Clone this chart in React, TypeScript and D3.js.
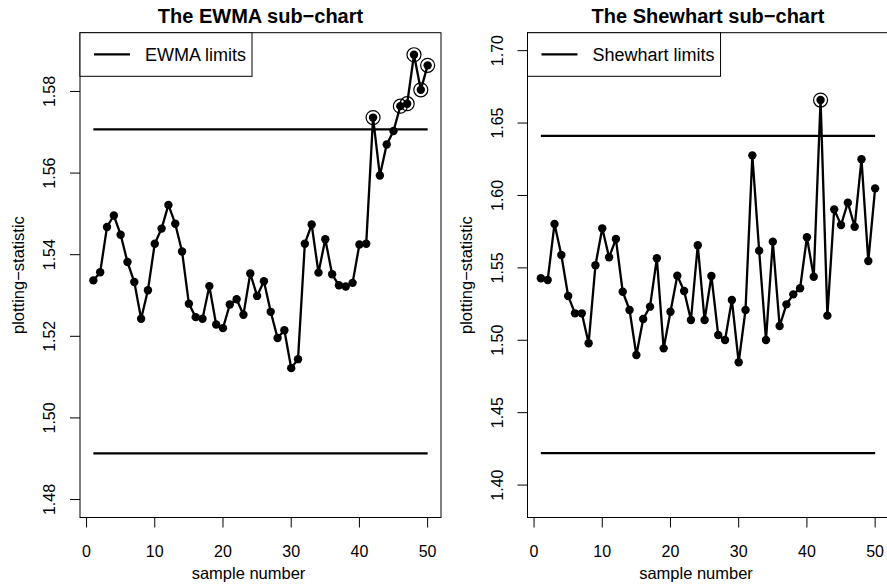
import { useEffect, useRef } from 'react';
import * as d3 from 'd3';

// sample numbers 1..50
const sampleNumbers: number[] = d3.range(1, 51);

const ewmaValues: number[] = [
  1.5337, 1.5357, 1.5468, 1.5496, 1.5449, 1.5382, 1.5333, 1.5243, 1.5313, 1.5427,
  1.5464, 1.5522, 1.5476, 1.5408, 1.528, 1.5247, 1.5243, 1.5323, 1.5229, 1.522,
  1.5278, 1.5291, 1.5253, 1.5354, 1.5299, 1.5335, 1.526, 1.5196, 1.5215, 1.5122,
  1.5144, 1.5427, 1.5474, 1.5356, 1.5438, 1.5352, 1.5325, 1.5322, 1.5331, 1.5425,
  1.5427, 1.5736, 1.5594, 1.567, 1.5703, 1.5764, 1.577, 1.589, 1.5804, 1.5864,
];
const ewmaLimits: number[] = [1.4913, 1.5707];
const ewmaYlim: number[] = [1.48, 1.59];
const ewmaTicks: number[] = [1.48, 1.5, 1.52, 1.54, 1.56, 1.58];

const shewhartValues: number[] = [
  1.5428, 1.5416, 1.5803, 1.5589, 1.5306, 1.5186, 1.5186, 1.4979, 1.5518, 1.5773,
  1.5573, 1.5699, 1.5335, 1.5209, 1.4898, 1.5147, 1.5232, 1.5566, 1.4944, 1.5197,
  1.5446, 1.534, 1.514, 1.5656, 1.514, 1.5444, 1.5036, 1.5002, 1.5278, 1.4848,
  1.5209, 1.6277, 1.5619, 1.5002, 1.5681, 1.5098, 1.5248, 1.5317, 1.5359, 1.5711,
  1.5439, 1.6659, 1.517, 1.5904, 1.5796, 1.595, 1.5784, 1.625, 1.5547, 1.6049,
];
const shewhartLimits: number[] = [1.4221, 1.6411];
const shewhartYlim: number[] = [1.39, 1.7];
const shewhartTicks: number[] = [1.4, 1.45, 1.5, 1.55, 1.6, 1.65, 1.7];

const xTicks: number[] = [0, 10, 20, 30, 40, 50];

const FONT = '"Liberation Sans", Arial, Helvetica, sans-serif';

type Panel = {
  title: string;
  legend: string;
  values: number[];
  limits: number[];
  ylim: number[];
  yTicks: number[];
  left: number;
};

const panels: Panel[] = [
  { title: 'The EWMA sub\u2212chart', legend: 'EWMA limits', values: ewmaValues, limits: ewmaLimits, ylim: ewmaYlim, yTicks: ewmaTicks, left: 80 },
  { title: 'The Shewhart sub\u2212chart', legend: 'Shewhart limits', values: shewhartValues, limits: shewhartLimits, ylim: shewhartYlim, yTicks: shewhartTicks, left: 527.5 },
];

// R-style 4% axis expansion
const expand = (lim: number[]) => {
  const pad = (lim[1] - lim[0]) * 0.04;
  return [lim[0] - pad, lim[1] + pad];
};

function App() {
  const svgRef = useRef<SVGSVGElement>(null);

  useEffect(() => {
    if (!svgRef.current) return;
    const svg = d3.select(svgRef.current);
    svg.selectAll('*').remove();

    const top = 32.7;
    const bottom = 517.5;
    const boxWidth = 361;

    panels.forEach((p) => {
      const x = d3.scaleLinear()
        .domain(expand([1, 50]))
        .range([p.left, p.left + boxWidth]);
      const y = d3.scaleLinear()
        .domain(expand(p.ylim))
        .range([bottom, top]);

      const g = svg.append('g').attr('font-family', FONT);

      // title
      g.append('text')
        .attr('x', p.left + boxWidth / 2)
        .attr('y', 23)
        .attr('text-anchor', 'middle')
        .attr('font-size', 20)
        .attr('font-weight', 'bold')
        .text(p.title);

      // limit lines
      p.limits.forEach((l) => {
        g.append('line')
          .attr('x1', x(1)).attr('x2', x(50))
          .attr('y1', y(l)).attr('y2', y(l))
          .attr('stroke', '#000')
          .attr('stroke-width', 2.3);
      });

      // series
      const line = d3.line<number>()
        .x((_, i) => x(sampleNumbers[i]))
        .y((d) => y(d));
      g.append('path')
        .datum(p.values)
        .attr('d', line)
        .attr('fill', 'none')
        .attr('stroke', '#000')
        .attr('stroke-width', 2.3)
        .attr('stroke-linejoin', 'round');

      g.selectAll('circle.pt')
        .data(p.values)
        .join('circle')
        .attr('class', 'pt')
        .attr('cx', (_, i) => x(sampleNumbers[i]))
        .attr('cy', (d) => y(d))
        .attr('r', 4.2)
        .attr('fill', '#000');

      // out-of-control points
      const signals = p.values
        .map((v, i) => ({ v, n: sampleNumbers[i] }))
        .filter((d) => d.v > p.limits[1] || d.v < p.limits[0]);
      g.selectAll('circle.sig')
        .data(signals)
        .join('circle')
        .attr('class', 'sig')
        .attr('cx', (d) => x(d.n))
        .attr('cy', (d) => y(d.v))
        .attr('r', 7)
        .attr('fill', 'none')
        .attr('stroke', '#000')
        .attr('stroke-width', 1.2);

      // box
      g.append('rect')
        .attr('x', p.left)
        .attr('y', top)
        .attr('width', boxWidth)
        .attr('height', bottom - top)
        .attr('fill', 'none')
        .attr('stroke', '#000')
        .attr('stroke-width', 1);

      // x axis
      xTicks.forEach((t) => {
        g.append('line')
          .attr('x1', x(t)).attr('x2', x(t))
          .attr('y1', bottom).attr('y2', bottom + 10)
          .attr('stroke', '#000');
        g.append('text')
          .attr('x', x(t))
          .attr('y', 556.7)
          .attr('text-anchor', 'middle')
          .attr('font-size', 16)
          .text(t);
      });
      g.append('text')
        .attr('x', p.left + boxWidth / 2 - 12)
        .attr('y', 579)
        .attr('text-anchor', 'middle')
        .attr('font-size', 16.5)
        .text('sample number');

      // y axis
      p.yTicks.forEach((t) => {
        g.append('line')
          .attr('x1', p.left - 10).attr('x2', p.left)
          .attr('y1', y(t)).attr('y2', y(t))
          .attr('stroke', '#000');
        g.append('text')
          .attr('transform', `translate(${p.left - 25},${y(t)}) rotate(-90)`)
          .attr('text-anchor', 'middle')
          .attr('font-size', 16)
          .text(d3.format('.2f')(t));
      });
      g.append('text')
        .attr('transform', `translate(${p.left - 56},${(top + bottom) / 2}) rotate(-90)`)
        .attr('text-anchor', 'middle')
        .attr('font-size', 16.5)
        .text('plotting\u2212statistic');

      // legend
      const lg = g.append('g');
      const label = lg.append('text')
        .attr('x', p.left + 65)
        .attr('y', 60.7)
        .attr('font-size', 18)
        .text(p.legend);
      const textLen = (label.node() as SVGTextElement).getComputedTextLength();
      lg.insert('rect', 'text')
        .attr('x', p.left)
        .attr('y', top)
        .attr('width', 65 + textLen + 6)
        .attr('height', 76.3 - top)
        .attr('fill', '#fff')
        .attr('stroke', '#000')
        .attr('stroke-width', 1);
      lg.append('line')
        .attr('x1', p.left + 14).attr('x2', p.left + 50)
        .attr('y1', 54.3).attr('y2', 54.3)
        .attr('stroke', '#000')
        .attr('stroke-width', 2.3);
    });
  }, []);

  return (
    <div style={{ position: 'absolute', left: 0, top: 0 }}>
      <svg ref={svgRef} width={887} height={586} style={{ display: 'block', background: '#fff' }}></svg>
    </div>
  );
}

export default App;
